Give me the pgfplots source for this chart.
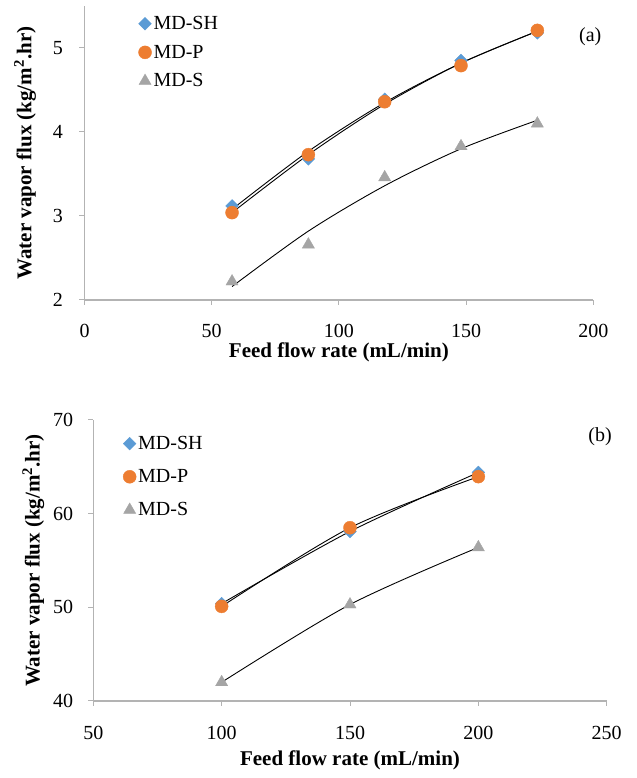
\documentclass[border=0pt]{standalone}
\usepackage{fontspec}
\setmainfont{Liberation Serif}
\usepackage{pgfplots}
\pgfplotsset{compat=1.18}

\definecolor{shblue}{HTML}{5B9BD5}
\definecolor{porange}{HTML}{ED7D31}
\definecolor{sgray}{HTML}{A5A5A5}
\definecolor{axgray}{HTML}{B3B3B3}

\pgfplotsset{
  fluxaxis/.style={
    scale only axis, anchor=south west,
    axis lines*=left,
    axis line style={draw=axgray, line width=1.1bp, -},
    tick style={draw=axgray, line width=1bp},
    tick align=outside, major tick length=5bp, minor tick num=0,
    tick label style={font=\fontsize{20bp}{24bp}\selectfont},
    /pgf/number format/assume math mode=true,
    label style={font=\bfseries\fontsize{21bp}{25bp}\selectfont},
    xlabel={Feed flow rate (mL/min)},
    ylabel={Water vapor flux (kg/m\textsuperscript{2}.hr)},
    ylabel style={at={(axis description cs:-0.117,0.5)}, anchor=center},
    clip=false,
    legend cell align=left,
    legend style={draw=none, fill=none, anchor=north west,
      font=\fontsize{20bp}{24bp}\selectfont},
    legend image code/.code={\draw[#1] plot coordinates {(6bp,0bp)};},
  },
  shmark/.style={only marks, mark=square*, mark size=4.5bp,
    mark options={rotate=45}, draw=shblue, fill=shblue},
  pmark/.style={only marks, mark=*, mark size=6.5bp, draw=porange, fill=porange},
  smark/.style={only marks, mark=triangle*, mark size=7bp, draw=sgray, fill=sgray},
  trend/.style={black, line width=0.9bp, smooth, no markers, forget plot},
}

\begin{document}
\begin{tikzpicture}
\useasboundingbox (0,0) rectangle (637bp,778bp);

% (a)
\begin{axis}[fluxaxis,
  at={(84.5bp,478bp)}, width=508.8bp, height=294bp,
  xmin=0, xmax=200, ymin=2, ymax=5.5,
  xtick={0,50,100,150,200}, ytick={2,3,4,5},
  xticklabel style={yshift=-16bp}, yticklabel style={xshift=-13bp},
  xlabel style={at={(axis description cs:0.5,0)}, anchor=center, yshift=-52bp},
  legend style={at={(axis description cs:0.1,0.979)}, row sep=10bp},
]
\addplot[shmark] coordinates {(58,3.12)(88,3.68)(118,4.39)(148,4.85)(178,5.18)};
\addlegendentry{MD-SH}
\addplot[pmark] coordinates {(58,3.04)(88,3.73)(118,4.36)(148,4.79)(178,5.21)};
\addlegendentry{MD-P}
\addplot[smark] coordinates {(58,2.22)(88,2.66)(118,3.46)(148,3.83)(178,4.10)};
\addlegendentry{MD-S}
\addplot[trend] coordinates {(58,3.08)(88,3.77)(118,4.35)(148,4.82)(178,5.20)};
\addplot[trend] coordinates {(58,3.04)(88,3.73)(118,4.33)(148,4.82)(178,5.20)};
\addplot[trend] coordinates {(58,2.16)(88,2.82)(118,3.36)(148,3.80)(178,4.14)};
\node[font=\fontsize{20bp}{24bp}\selectfont] at (axis description cs:0.994,0.895) {(a)};
\end{axis}

% (b)
\begin{axis}[fluxaxis,
  at={(93.3bp,77bp)}, width=513.4bp, height=281bp,
  xmin=50, xmax=250, ymin=40, ymax=70,
  xtick={50,100,150,200,250}, ytick={40,50,60,70},
  xticklabel style={yshift=-17bp}, yticklabel style={xshift=-11.6bp},
  xlabel style={at={(axis description cs:0.5,0)}, anchor=center, yshift=-59bp},
  legend style={at={(axis description cs:0.052,0.957)}, row sep=14.5bp},
]
\addplot[shmark] coordinates {(100,50.4)(150,58.1)(200,64.4)};
\addlegendentry{MD-SH}
\addplot[pmark] coordinates {(100,50.1)(150,58.5)(200,63.95)};
\addlegendentry{MD-P}
\addplot[smark] coordinates {(100,42.0)(150,50.3)(200,56.4)};
\addlegendentry{MD-S}
\addplot[trend] coordinates {(100,50.4)(150,58.1)(200,64.4)};
\addplot[trend] coordinates {(100,50.1)(150,58.5)(200,63.95)};
\addplot[trend] coordinates {(100,42.0)(150,50.3)(200,56.4)};
\node[font=\fontsize{20bp}{24bp}\selectfont] at (axis description cs:0.987,0.94) {(b)};
\end{axis}
\end{tikzpicture}
\end{document}
